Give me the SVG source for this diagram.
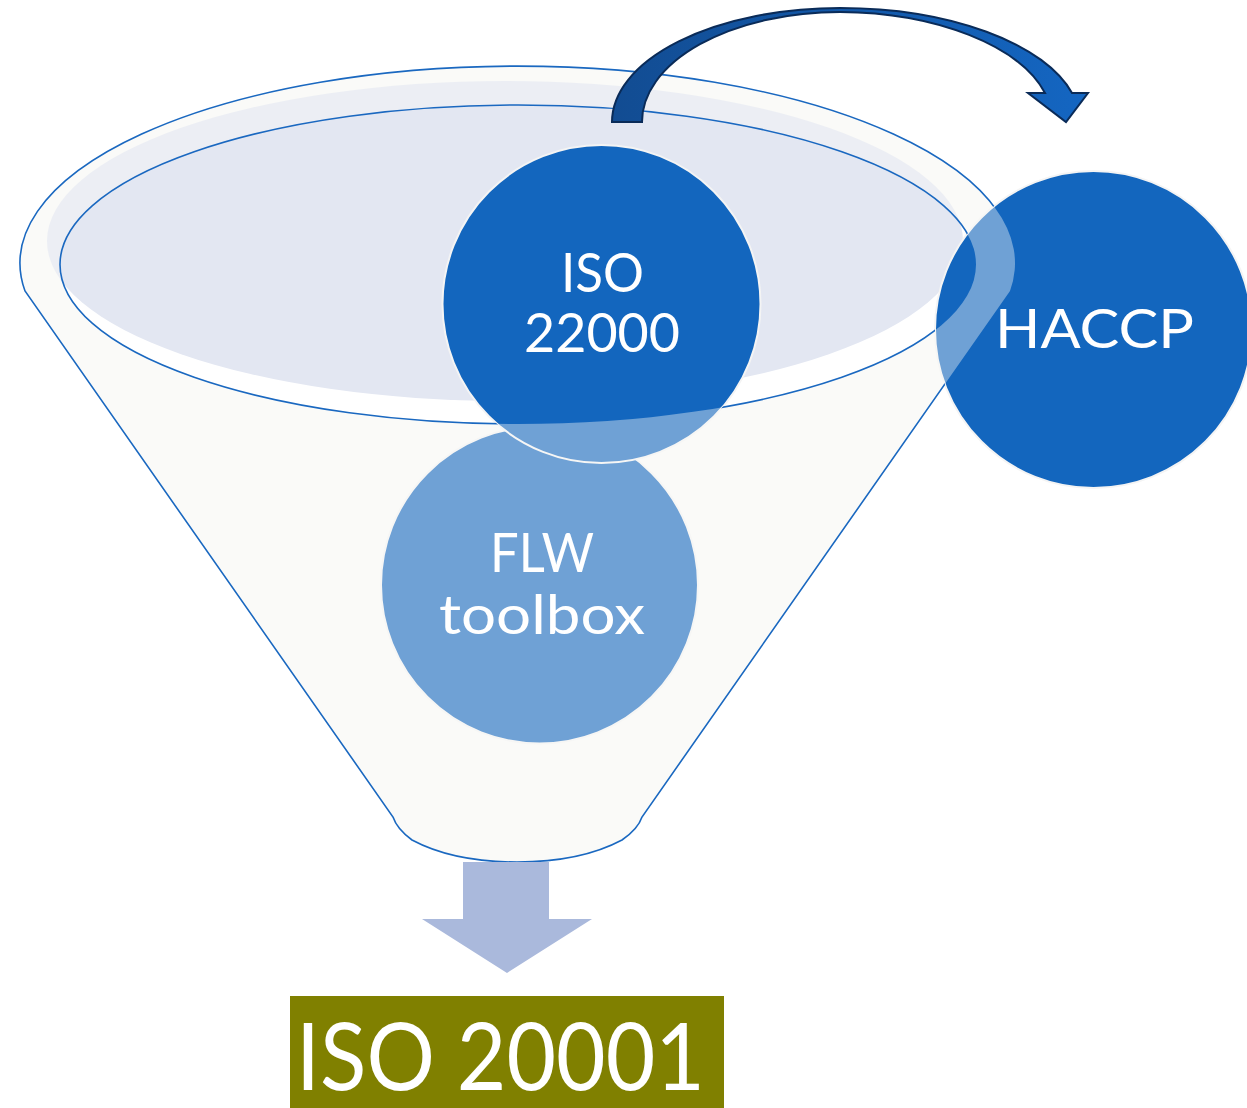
<svg xmlns="http://www.w3.org/2000/svg" width="1247" height="1108" viewBox="0 0 1247 1108">
  <style>
    .lbl { fill: #FFFFFF; font-family: "Lato", "Open Sans", "Liberation Sans", sans-serif; font-weight: 400; }
    .disc { fill: #1366BE; stroke: #F4F4F4; stroke-width: 2; }
    .outline { fill: none; stroke: #1A68C0; stroke-width: 1.6; }
  </style>
  <defs>
    <linearGradient id="arcFill" gradientUnits="userSpaceOnUse" x1="612" y1="0" x2="1088" y2="0">
      <stop offset="0" stop-color="#124C92"/>
      <stop offset="1" stop-color="#1466C2"/>
    </linearGradient>
    <!-- funnel outlines are hidden wherever a disc sits on top -->
    <mask id="offDiscs" maskUnits="userSpaceOnUse" x="0" y="0" width="1247" height="1108">
      <rect x="0" y="0" width="1247" height="1108" fill="#fff"/>
      <circle cx="539.5" cy="585" r="158.5" fill="#000"/>
      <circle cx="601.5" cy="304" r="159" fill="#000"/>
      <circle cx="1093.5" cy="329.5" r="158.5" fill="#000"/>
    </mask>
  </defs>

  <!-- funnel: back layer -->
  <g id="funnel-back">
    <path d="M 25 291 A 497.5 197 0 1 1 1010 291 L 642 817 Q 638 829 622 840 C 592 856 556 862 517 862 C 478 862 442 856 412 840 Q 397 829 393 817 Z" fill="#FAFAF8"/>
    <ellipse cx="518" cy="264.5" rx="458" ry="159.5" fill="#FFFFFF"/>
    <ellipse cx="505" cy="241" rx="458" ry="160" fill="#E3E7F2"/>
  </g>

  <!-- discs -->
  <g id="node-flw">
    <circle class="disc" cx="539.5" cy="585" r="158.5"/>
  </g>
  <g id="node-iso22000">
    <circle class="disc" cx="601.5" cy="304" r="159"/>
  </g>
  <g id="node-haccp">
    <circle class="disc" cx="1093.5" cy="329.5" r="158.5"/>
  </g>

  <!-- funnel: translucent front wall over the discs -->
  <g id="funnel-front">
    <path fill-rule="evenodd" fill="#FAFAF8" fill-opacity="0.4" d="M 25 291 A 497.5 197 0 1 1 1010 291 L 642 817 Q 638 829 622 840 C 592 856 556 862 517 862 C 478 862 442 856 412 840 Q 397 829 393 817 Z M 60 264.5 A 458 159.5 0 1 0 976 264.5 A 458 159.5 0 1 0 60 264.5 Z"/>
    <g mask="url(#offDiscs)">
      <path class="outline" d="M 25 291 A 497.5 197 0 1 1 1010 291 L 642 817 Q 638 829 622 840 C 592 856 556 862 517 862 C 478 862 442 856 412 840 Q 397 829 393 817 Z"/>
      <ellipse class="outline" cx="518" cy="264.5" rx="458" ry="159.5"/>
    </g>
  </g>

  <!-- disc labels -->
  <g id="labels">
    <text class="lbl" x="561" y="292" font-size="54" textLength="83" lengthAdjust="spacingAndGlyphs">ISO</text>
    <text class="lbl" x="524" y="352" font-size="54" textLength="156" lengthAdjust="spacingAndGlyphs">22000</text>
    <text class="lbl" x="490" y="572" font-size="54" textLength="104" lengthAdjust="spacingAndGlyphs">FLW</text>
    <text class="lbl" x="439" y="634" font-size="54" textLength="206" lengthAdjust="spacingAndGlyphs">toolbox</text>
    <text class="lbl" x="995" y="348" font-size="55" textLength="199" lengthAdjust="spacingAndGlyphs">HACCP</text>
  </g>

  <!-- connectors -->
  <g id="connectors">
    <path d="M 612 122 A 228 114 0 0 1 840 8 A 240 114 0 0 1 1072 93 L 1088 93 L 1066 122 L 1028 93 L 1045 93 A 215 110 0 0 0 840 12 A 198 110 0 0 0 642 122 Z" fill="url(#arcFill)" stroke="#0A2B58" stroke-width="2" stroke-linejoin="miter"/>
    <path d="M 463 862 L 549 862 L 549 919 L 592 919 L 507 973 L 422 919 L 463 919 Z" fill="#AAB9DC"/>
  </g>

  <!-- result -->
  <g id="node-iso20001">
    <rect x="290" y="996" width="434" height="112" fill="#808000"/>
    <text class="lbl" x="296" y="1090" font-size="93" textLength="409" lengthAdjust="spacingAndGlyphs" fill="#F8F8F0">ISO 20001</text>
  </g>
</svg>
